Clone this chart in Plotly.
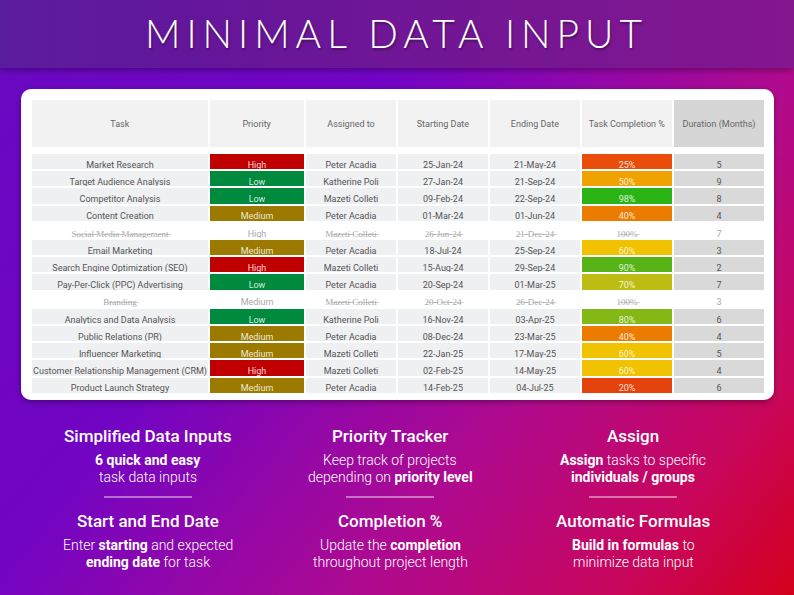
import base64

import plotly.graph_objects as go

W, H = 794, 595

columns = ["Task", "Priority", "Assigned to", "Starting Date", "Ending Date",
           "Task Completion %", "Duration (Months)"]
tasks = ["Market Research", "Target Audience Analysis", "Competitor Analysis", "Content Creation",
         "Social Media Management", "Email Marketing", "Search Engine Optimization (SEO)",
         "Pay-Per-Click (PPC) Advertising", "Branding", "Analytics and Data Analysis",
         "Public Relations (PR)", "Influencer Marketing", "Customer Relationship Management (CRM)",
         "Product Launch Strategy"]
priority = ["High", "Low", "Low", "Medium", "High", "Medium", "High", "Low", "Medium", "Low",
            "Medium", "Medium", "High", "Medium"]
assigned = ["Peter Acadia", "Katherine Poli", "Mazeti Colleti", "Peter Acadia", "Mazeti Colleti",
            "Peter Acadia", "Mazeti Colleti", "Peter Acadia", "Mazeti Colleti", "Katherine Poli",
            "Peter Acadia", "Mazeti Colleti", "Mazeti Colleti", "Peter Acadia"]
start_dates = ["25-Jan-24", "27-Jan-24", "09-Feb-24", "01-Mar-24", "26-Jun-24", "18-Jul-24",
               "15-Aug-24", "20-Sep-24", "20-Oct-24", "16-Nov-24", "08-Dec-24", "22-Jan-25",
               "02-Feb-25", "14-Feb-25"]
end_dates = ["21-May-24", "21-Sep-24", "22-Sep-24", "01-Jun-24", "21-Dec-24", "25-Sep-24",
             "29-Sep-24", "01-Mar-25", "26-Dec-24", "03-Apr-25", "23-Mar-25", "17-May-25",
             "14-May-25", "04-Jul-25"]
completion = [25, 50, 98, 40, 100, 60, 90, 70, 100, 80, 40, 60, 60, 20]
duration = [5, 9, 8, 4, 7, 3, 2, 7, 3, 6, 4, 5, 4, 6]

# colour rules of the spreadsheet
PRIORITY_COLORS = {"High": "#c00000", "Low": "#008a3e", "Medium": "#9c7a00"}
COMPLETION_COLORS = {20: "#e6420c", 25: "#e84e0a", 40: "#ec7c00", 50: "#f0a200", 60: "#f0c200",
                     70: "#bcbc12", 80: "#84b816", 90: "#56b416", 98: "#2cb416"}
CELL_BG = "#eff0f1"
DUR_BG = "#d9d9d9"
TEXT = "#555555"
DONE_TEXT = "#a8a8a8"
ON_COLOR = "rgba(255,255,255,0.85)"
FONT = "Roboto"


def px(x):
    return x / W


def py(y):
    return 1 - y / H


def nb(s):
    # non-breaking spaces so plotly does not wrap the cell text
    return str(s).replace(" ", "\u00a0")


def cell(s, struck):
    s = nb(s)
    if struck:
        s = "".join(ch + "\u0336" for ch in s)
    return s


done = [c >= 100 for c in completion]

values = [
    [cell(t, d) for t, d in zip(tasks, done)],
    priority,
    [cell(a, d) for a, d in zip(assigned, done)],
    [cell(s, d) for s, d in zip(start_dates, done)],
    [cell(e, d) for e, d in zip(end_dates, done)],
    [cell(f"{c}%", d) for c, d in zip(completion, done)],
    [str(v) for v in duration],
]

plain_fill = ["#ffffff" if d else CELL_BG for d in done]
fills = [
    plain_fill,
    ["#ffffff" if d else PRIORITY_COLORS[p] for p, d in zip(priority, done)],
    plain_fill, plain_fill, plain_fill,
    ["#ffffff" if d else COMPLETION_COLORS[c] for c, d in zip(completion, done)],
    ["#ffffff" if d else DUR_BG for d in done],
]
plain_text = [DONE_TEXT if d else TEXT for d in done]
colored_text = [DONE_TEXT if d else ON_COLOR for d in done]
font_colors = [plain_text, colored_text, plain_text, plain_text, plain_text, colored_text, plain_text]

col_widths = [178, 96, 92, 92, 92, 92, 92]
x_dom = [px(31), px(765)]

header_table = go.Table(
    domain=dict(x=x_dom, y=[py(156), py(99)]),
    columnwidth=col_widths,
    header=dict(values=["\u00a0<br>" + nb(c) for c in columns], height=49, align="center",
                fill_color=["#f2f2f2"] * 6 + ["#d6d6d6"],
                line=dict(color="white", width=2),
                font=dict(family=FONT, size=9, color="#666666")),
    cells=dict(values=[[] for _ in columns]),
)

body_table = go.Table(
    domain=dict(x=x_dom, y=[py(402), py(148)]),
    columnwidth=col_widths,
    header=dict(values=[""] * 7, height=5, fill_color="white",
                line=dict(color="white", width=0), font=dict(size=1)),
    cells=dict(values=values, height=17.2, align="center",
               fill_color=fills,
               line=dict(color="white", width=2),
               font=dict(family=FONT, size=9, color=font_colors)),
)

fig = go.Figure([header_table, body_table])

# background: gradient, darker title band and white table panel
svg = f"""<svg xmlns='http://www.w3.org/2000/svg' width='{W}' height='{H}' viewBox='0 0 {W} {H}' preserveAspectRatio='none'>
<defs>
<linearGradient id='bg' gradientUnits='userSpaceOnUse' x1='0' y1='70' x2='734' y2='668'>
<stop offset='0' stop-color='#6a08c2'/>
<stop offset='0.33' stop-color='#7204c4'/>
<stop offset='0.65' stop-color='#b00a8e'/>
<stop offset='0.85' stop-color='#c8065c'/>
<stop offset='1' stop-color='#d4001c'/>
</linearGradient>
<linearGradient id='band' x1='0' y1='0' x2='1' y2='0'>
<stop offset='0' stop-color='#5a1a9e'/>
<stop offset='1' stop-color='#84168e'/>
</linearGradient>
<filter id='sh' x='-5%' y='-5%' width='110%' height='120%'><feDropShadow dx='0' dy='2' stdDeviation='3' flood-color='#000' flood-opacity='0.35'/></filter>
</defs>
<rect width='{W}' height='{H}' fill='url(#bg)'/>
<rect width='{W}' height='68' fill='url(#band)' filter='url(#sh)'/>
<rect x='21' y='89' width='753' height='311' rx='10' ry='10' fill='#ffffff' filter='url(#sh)'/>
</svg>"""
bg_uri = "data:image/svg+xml;base64," + base64.b64encode(svg.encode()).decode()
fig.add_layout_image(dict(source=bg_uri, xref="paper", yref="paper", x=0, y=1, sizex=1, sizey=1,
                          sizing="stretch", xanchor="left", yanchor="top", layer="below"))

fig.add_annotation(
    text='<span style="letter-spacing:6px">MINIMAL DATA INPUT</span>',
    x=px(396), y=py(33), xref="paper", yref="paper", showarrow=False,
    xanchor="center", yanchor="middle",
    font=dict(family="Lato", size=39, color="white", weight=300,
              shadow="1px 2px 2px rgba(0,0,0,0.35)"),
)

features = [
    (148, "Simplified Data Inputs", "<b>6 quick and easy</b>", "task data inputs",
     "Start and End Date", "Enter <b>starting</b> and expected", "<b>ending date</b> for task"),
    (390, "Priority Tracker", "Keep track of projects", "depending on <b>priority level</b>",
     "Completion %", "Update the <b>completion</b>", "throughout project length"),
    (633, "Assign", "<b>Assign</b> tasks to specific", "<b>individuals / groups</b>",
     "Automatic Formulas", "<b>Build in formulas</b> to", "minimize data input"),
]
for cx, h1, a1, b1, h2, a2, b2 in features:
    rows = [(h1, 436, 17, 500), (a1, 460, 14, 300), (b1, 477, 14, 300),
            (h2, 521, 17, 500), (a2, 545, 14, 300), (b2, 562, 14, 300)]
    for text, y, size, weight in rows:
        fig.add_annotation(text=text, x=px(cx), y=py(y), xref="paper", yref="paper",
                           showarrow=False, xanchor="center", yanchor="middle",
                           font=dict(family=FONT, size=size, color="white", weight=weight))
    fig.add_shape(type="line", xref="paper", yref="paper", x0=px(cx - 44), x1=px(cx + 44),
                  y0=py(497), y1=py(497), line=dict(color="rgba(255,255,255,0.85)", width=1.2))

fig.update_layout(width=W, height=H, autosize=False, margin=dict(l=0, r=0, t=0, b=0),
                  paper_bgcolor="#7a10b0", plot_bgcolor="rgba(0,0,0,0)", showlegend=False)
fig.write_html("out.html", config={"displayModeBar": False},
               post_script="document.body.style.margin='0';")
